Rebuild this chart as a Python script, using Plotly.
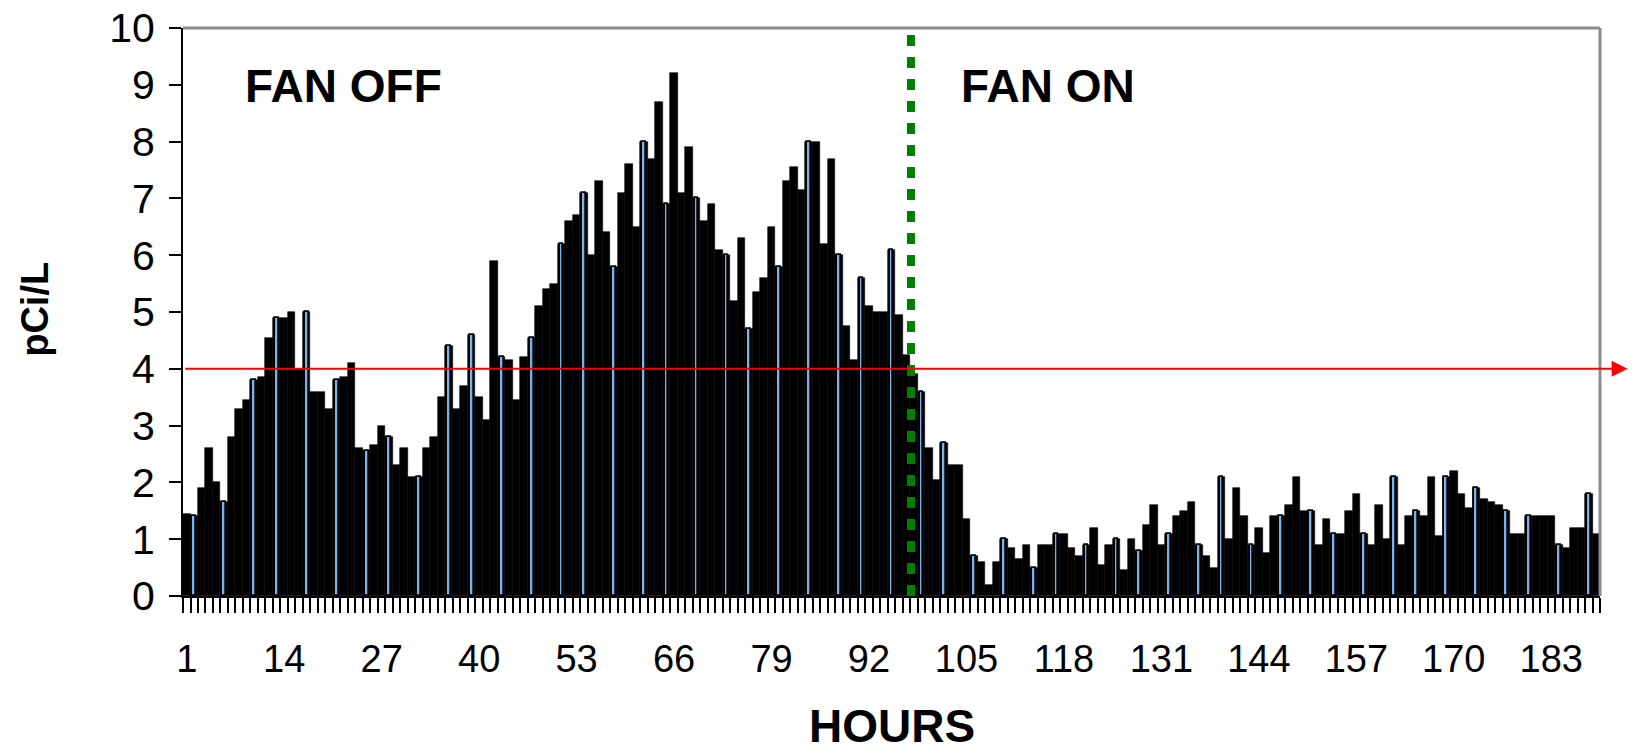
import plotly.graph_objects as go

# ---- data ----
hours = list(range(1, 190))
radon_pci_l = [
    1.45, 1.4, 1.9, 2.6, 2.0, 1.65, 2.8, 3.3, 3.45, 3.8,
    3.85, 4.55, 4.9, 4.9, 5.0, 4.0, 5.0, 3.6, 3.6, 3.3,
    3.8, 3.85, 4.1, 2.6, 2.55, 2.65, 3.0, 2.8, 2.3, 2.6,
    2.1, 2.1, 2.6, 2.8, 3.5, 4.4, 3.3, 3.7, 4.6, 3.5,
    3.1, 5.9, 4.2, 4.15, 3.45, 4.2, 4.55, 5.1, 5.4, 5.5,
    6.2, 6.6, 6.7, 7.1, 6.0, 7.3, 6.4, 5.8, 7.1, 7.6,
    6.5, 8.0, 7.7, 8.7, 6.9, 9.2, 7.1, 7.9, 7.0, 6.6,
    6.9, 6.1, 6.0, 5.2, 6.3, 4.7, 5.35, 5.6, 6.5, 5.8,
    7.3, 7.55, 7.15, 8.0, 8.0, 6.2, 7.7, 6.0, 4.75, 4.15,
    5.6, 5.1, 5.0, 5.0, 6.1, 4.95, 4.25, 3.9, 3.6, 2.6,
    2.05, 2.7, 2.3, 2.3, 1.35, 0.7, 0.6, 0.2, 0.6, 1.0,
    0.85, 0.65, 0.9, 0.5, 0.9, 0.9, 1.1, 1.1, 0.85, 0.7,
    0.9, 1.2, 0.55, 0.9, 1.0, 0.45, 1.0, 0.8, 1.25, 1.6,
    0.9, 1.1, 1.4, 1.5, 1.65, 0.9, 0.7, 0.5, 2.1, 1.0,
    1.9, 1.4, 0.9, 1.2, 0.75, 1.4, 1.4, 1.6, 2.1, 1.5,
    1.5, 0.9, 1.35, 1.1, 1.1, 1.5, 1.8, 1.1, 0.9, 1.6,
    1.0, 2.1, 0.9, 1.4, 1.5, 1.4, 2.1, 1.05, 2.1, 2.2,
    1.8, 1.55, 1.9, 1.7, 1.65, 1.6, 1.5, 1.1, 1.1, 1.4,
    1.4, 1.4, 1.4, 0.9, 0.85, 1.2, 1.2, 1.8, 1.1,
]
tick_hours = list(range(1, 190, 13))
tick_labels = [str(h) for h in tick_hours]
action_level = 4.0
fan_switch_hour = 97.6
y_ticks = list(range(0, 11))

# hours where the light fill of the bar shows through (rendering style only)
highlight_hours = [2, 6, 10, 13, 17, 21, 25, 28, 32, 36, 39, 43, 47, 51, 54, 58,
                   62, 65, 69, 73, 76, 80, 84, 88, 91, 95, 99, 102, 106, 110, 114,
                   117, 121, 125, 128, 132, 136, 139, 143, 147, 151, 154, 158, 162,
                   165, 169, 173, 177, 180, 184, 188]

FONT = "Liberation Sans, Arial, sans-serif"

fig = go.Figure()
fig.add_trace(go.Bar(
    x=hours, y=radon_pci_l, width=1.0,
    marker=dict(color="black", line=dict(color="black", width=0.6)),
    hoverinfo="x+y", showlegend=False,
))
hl_vals = [radon_pci_l[h - 1] for h in highlight_hours]
fig.add_trace(go.Bar(
    x=highlight_hours, y=hl_vals, width=0.5,
    marker=dict(color="#78B4EC", line=dict(color="black", width=1.7)),
    hoverinfo="skip", showlegend=False,
))

# fan switch line
fig.add_shape(type="line", xref="x", yref="y", x0=fan_switch_hour, x1=fan_switch_hour,
              y0=0, y1=10, line=dict(color="#008000", width=8, dash="11px,11px"), layer="above")

# plot frame (top / right in gray)
fig.add_shape(type="line", xref="paper", yref="paper", x0=0, x1=1, y0=1, y1=1,
              line=dict(color="#8c8c8c", width=3))
fig.add_shape(type="line", xref="paper", yref="paper", x0=1, x1=1, y0=0, y1=1,
              line=dict(color="#8c8c8c", width=3))

# action level arrow line
fig.add_annotation(xref="paper", yref="y", x=1.0195, y=action_level,
                   ax=-1444, ay=0, axref="pixel", ayref="pixel",
                   showarrow=True, arrowhead=2, arrowsize=1.6, arrowwidth=2,
                   arrowcolor="#ff0000", text="")

fig.add_annotation(xref="paper", yref="paper", x=0.113, y=0.898, text="<b>FAN OFF</b>",
                   showarrow=False, font=dict(family=FONT, size=46, color="black"),
                   xanchor="center", yanchor="middle")
fig.add_annotation(xref="paper", yref="paper", x=0.6105, y=0.898, text="<b>FAN ON</b>",
                   showarrow=False, font=dict(family=FONT, size=46, color="black"),
                   xanchor="center", yanchor="middle")
fig.add_annotation(xref="paper", yref="paper", x=0.5, y=-0.278, text="<b>HOURS</b>",
                   showarrow=False, font=dict(family=FONT, size=46, color="black"),
                   xanchor="center", yanchor="bottom")
fig.add_annotation(xref="paper", yref="paper", x=-0.104, y=0.505, text="<b>pCi/L</b>",
                   showarrow=False, textangle=-90, font=dict(family=FONT, size=38, color="black"),
                   xanchor="center", yanchor="middle")

fig.update_layout(
    width=1632, height=754,
    margin=dict(l=183, r=32, t=28, b=158),
    paper_bgcolor="white", plot_bgcolor="white",
    barmode="overlay", bargap=0,
    font=dict(family=FONT, color="black"),
    xaxis=dict(
        range=[0.5, 189.5], tickmode="array", tickvals=tick_hours, ticktext=tick_labels,
        ticks="", showgrid=False, zeroline=False, automargin=False,
        showline=True, linecolor="black", linewidth=2,
        tickfont=dict(family=FONT, size=38, color="black"),
        ticklabelstandoff=28, ticklabeloverflow="allow",
        minor=dict(tick0=0.5, dtick=1, ticks="outside", ticklen=15, tickwidth=2,
                   tickcolor="black", showgrid=False),
    ),
    yaxis=dict(
        range=[0, 10], tickmode="array", tickvals=y_ticks,
        ticks="outside", ticklen=12, tickwidth=2, tickcolor="black",
        showgrid=False, zeroline=False, automargin=False,
        showline=True, linecolor="black", linewidth=2,
        tickfont=dict(family=FONT, size=41, color="black"),
        ticklabelstandoff=6, ticklabeloverflow="allow",
    ),
)

# remove the browser's default 8px body margin so the figure fills the window
fig.write_html("out.html",
               config={"displayModeBar": False},
               post_script="document.body.style.margin='0';document.body.style.overflow='hidden';")
